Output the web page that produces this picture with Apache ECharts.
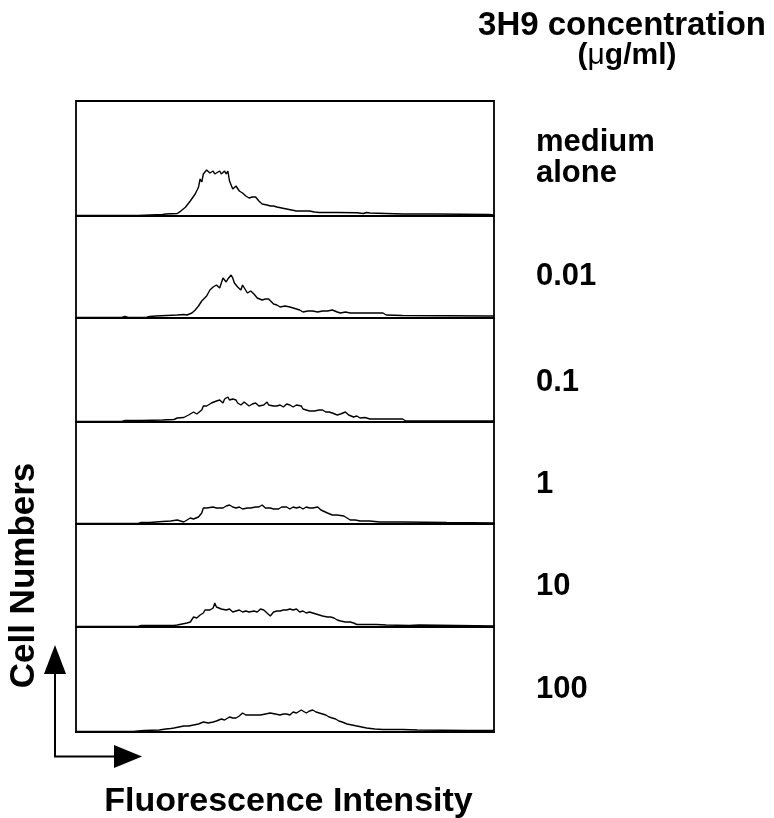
<!DOCTYPE html>
<html>
<head>
<meta charset="utf-8">
<script src="https://cdn.jsdelivr.net/npm/echarts@6/dist/echarts.min.js"></script>
<style>html,body{margin:0;padding:0;background:#fff;}#c{width:774px;height:818px;}</style>
</head>
<body>
<div id="c"></div>
<script>
// Concentration labels (one per panel, top to bottom)
const concentrations = ['medium\nalone', '0.01', '0.1', '1', '10', '100'];
const headerLine1 = '3H9 concentration';
const headerLine2 = '(μg/ml)';
const xTitle = 'Fluorescence Intensity';
const yTitle = 'Cell Numbers';

// Histograms: [channel, cell count]
const histMedium = [[0,0.5],[38,0.5],[39,1],[53,1.5],[55,2],[62,2.5],[64,4.7],[67,8.7],[70,15],[73,22],[75,28.7],[76,37],[77,34],[78,42],[80,46],[81,44],[82,43],[84,45],[85,42],[86,44],[88,45],[89,42],[90,44],[91,45],[92,42],[93,45],[94,35],[96,27],[97,29],[98,30],[100,25],[102,23],[104,20],[106,18],[108,19],[110,19],[112,15],[114,12],[117,11],[119,10],[121,10],[123,9],[126,8],[129,7],[132,6],[135,5],[140,5],[143,5],[146,4],[149,3.5],[160,3.5],[172,3.3],[176,2.5],[178,3.5],[180,3],[190,2.5],[200,2],[220,2],[253,1.5],[256,1]];
const hist001 = [[0,0.5],[28,0.5],[30,1.5],[32,0.5],[43,0.5],[45,1.5],[49,2],[62,3],[66,3.5],[68,3],[71,5],[73,8],[75,12],[77,17],[78,19],[80,22],[81,21],[82,28],[84,31],[85,29],[86,33],[88,30],[89,35],[90,40],[92,36],[93,39],[95,43],[96,40],[97,35],[99,31],[101,28],[102,33],[103,32],[105,25],[107,27],[109,24],[111,20],[114,18],[116,19],[118,19],[121,14],[123,13],[125,11],[128,12],[131,11],[135,9],[137,8],[139,6],[142,7],[145,7],[148,6],[151,7],[154,7],[157,8],[160,6],[162,5],[165,6],[168,5],[188,5],[190,3],[200,2.5],[253,2],[256,2]];
const hist01 = [[0,0.5],[28,0.5],[30,1.5],[40,1.5],[53,2],[60,2.5],[62,4],[66,4.5],[69,7],[70,6],[72,10],[74,8],[75,9],[77,12],[78,16],[80,16],[81,17],[83,19],[84,21],[86,21],[88,22],[89,20],[90,19],[91,23],[93,25],[94,22],[95,20],[96,23],[98,22],[99,19],[100,21],[101,17],[103,20],[104,21],[106,16],[107,15],[108,18],[110,19],[112,16],[113,16],[115,17],[117,20],[118,17],[119,15],[121,16],[123,16],[125,17],[127,15],[129,18],[130,20],[131,17],[133,15],[135,17],[136,19],[138,16],[139,13],[141,12],[143,11],[146,11],[149,12],[151,12],[153,10],[155,10],[157,9],[160,7],[162,8],[165,10],[167,7],[170,5],[172,6],[174,4],[177,4.5],[180,3],[200,3],[202,1],[256,1]];
const hist1 = [[0,0.5],[38,0.5],[40,1.5],[45,1.5],[53,2.5],[58,3],[62,4],[64,3],[66,2],[68,4],[70,6],[72,5],[75,7],[77,11],[78,16],[80,16],[84,17],[86,16],[88,16],[90,16],[92,18],[94,19],[96,17],[98,16],[100,17],[102,15],[105,16],[107,16],[110,17],[112,17],[114,19],[116,16],[119,16],[121,15],[124,15],[126,17],[129,17],[131,15],[133,17],[135,16],[137,17],[139,15],[141,17],[143,16],[145,16],[148,17],[150,14],[151,12],[154,11],[157,9],[160,9],[164,8],[166,6],[168,4],[171,4],[174,3],[180,3],[186,2],[200,2],[227,1.5],[256,1]];
const hist10 = [[0,0.5],[24,0.5],[25,1.5],[26,0.5],[38,0.5],[40,1.5],[50,1.5],[60,1.5],[62,2],[65,3],[68,4],[70,5],[72,10],[74,9],[76,12],[78,14],[79,17],[80,15],[82,17],[84,19],[85,24],[86,20],[87,19],[89,18],[90,17],[92,17],[94,18],[96,15],[98,16],[100,17],[102,15],[104,16],[106,15],[107,17],[109,16],[111,15],[113,18],[115,17],[117,14],[119,11],[121,15],[123,16],[125,16],[127,17],[129,17],[131,18],[133,17],[135,18],[137,15],[139,16],[141,14],[143,15],[145,14],[147,13],[149,12],[151,11],[154,10],[156,10],[158,9],[160,7],[162,6],[165,5],[168,5],[170,4],[172,2.5],[184,2.5],[190,2],[204,1.5],[210,2],[256,1]];
const hist100 = [[0,0.5],[35,0.5],[36,1.5],[38,1],[42,1.5],[51,2],[55,3],[58,3.5],[60,4],[63,5],[66,6],[69,6],[72,7],[75,8],[78,10],[81,9],[84,10],[86,11],[89,13],[91,12],[94,15],[96,14],[98,14],[100,16],[102,19],[104,17],[107,17],[110,17],[113,17],[116,18],[119,19],[122,18],[125,17],[127,18],[129,18],[131,17],[133,20],[135,19],[138,22],[139,20],[141,19],[143,21],[145,22],[147,20],[149,19],[151,18],[153,17],[155,15],[157,14],[159,13],[161,11],[163,10],[166,8],[169,7],[172,6],[175,5],[178,4],[183,3],[188,2.5],[200,2.5],[209,2],[240,1.5],[256,1.5]];

const histograms = [histMedium, hist001, hist01, hist1, hist10, hist100];

// ---- layout ----
const boxL = 76, boxR = 494, boxT = 101, boxB = 732;
const baselines = [216, 318, 422, 524, 627, 732];
const panelH = 103;
const labelCenters = [[142, 173], 276, 382.5, 484, 586, 689];

const chart = echarts.init(document.getElementById('c'), null, {renderer: 'canvas'});

const grids = [], xAxes = [], yAxes = [], series = [];
histograms.forEach((h, i) => {
  grids.push({left: boxL, width: boxR - boxL, top: baselines[i] - panelH, height: panelH, containLabel: false});
  xAxes.push({type: 'value', gridIndex: i, min: 0, max: 256,
    axisLine: {show: true, onZero: false, lineStyle: {color: '#000', width: 2}},
    axisTick: {show: false}, axisLabel: {show: false}, splitLine: {show: false}});
  yAxes.push({type: 'value', gridIndex: i, min: 0, max: panelH,
    axisLine: {show: false}, axisTick: {show: false}, axisLabel: {show: false}, splitLine: {show: false}});
  series.push({type: 'line', xAxisIndex: i, yAxisIndex: i, data: h, showSymbol: false,
    symbol: 'none', lineStyle: {color: '#000', width: 1.4}, animation: false, silent: true});
});

const F = '"Liberation Sans", Arial, sans-serif';
const graphic = [
  {type: 'rect', shape: {x: boxL, y: boxT, width: boxR - boxL, height: boxB - boxT},
   style: {fill: 'none', stroke: '#000', lineWidth: 1.8}, silent: true, z: 10},
  // axis arrows
  {type: 'polyline', shape: {points: [[55, 670], [55, 756.5], [116, 756.5]]},
   style: {stroke: '#000', lineWidth: 2, fill: 'none'}},
  {type: 'polygon', shape: {points: [[55, 645], [44, 674], [66, 674]]}, style: {fill: '#000'}},
  {type: 'polygon', shape: {points: [[142, 756.5], [114, 745], [114, 768]]}, style: {fill: '#000'}},
  // header
  {type: 'text', x: 622, y: 26, style: {text: headerLine1, font: 'bold 33px ' + F, fill: '#000', align: 'center', verticalAlign: 'middle'}},
  {type: 'text', x: 627, y: 56, style: {text: '{a|(}{m|μ}{a|g/ml)}', align: 'center', verticalAlign: 'middle',
    rich: {a: {font: 'bold 30px ' + F, fill: '#000'}, m: {font: '30px ' + F, fill: '#000'}}}},
  // axis titles
  {type: 'text', x: 288.5, y: 801.5, style: {text: xTitle, font: 'bold 34px ' + F, fill: '#000', align: 'center', verticalAlign: 'middle'}},
  {type: 'text', x: 24, y: 575.5, rotation: Math.PI / 2, style: {text: yTitle, font: 'bold 35px ' + F, fill: '#000', align: 'center', verticalAlign: 'middle'}}
];
concentrations.forEach((lab, i) => {
  const lines = lab.split('\n');
  const ys = Array.isArray(labelCenters[i]) ? labelCenters[i] : [labelCenters[i]];
  lines.forEach((ln, k) => {
    graphic.push({type: 'text', x: 536, y: ys[k], style: {text: ln,
      font: 'bold ' + (lines.length > 1 ? 31 : 31) + 'px ' + F, fill: '#000', align: 'left', verticalAlign: 'middle'}});
  });
});

chart.setOption({
  backgroundColor: '#fff',
  animation: false,
  grid: grids, xAxis: xAxes, yAxis: yAxes, series: series,
  graphic: graphic
});
</script>
</body>
</html>
